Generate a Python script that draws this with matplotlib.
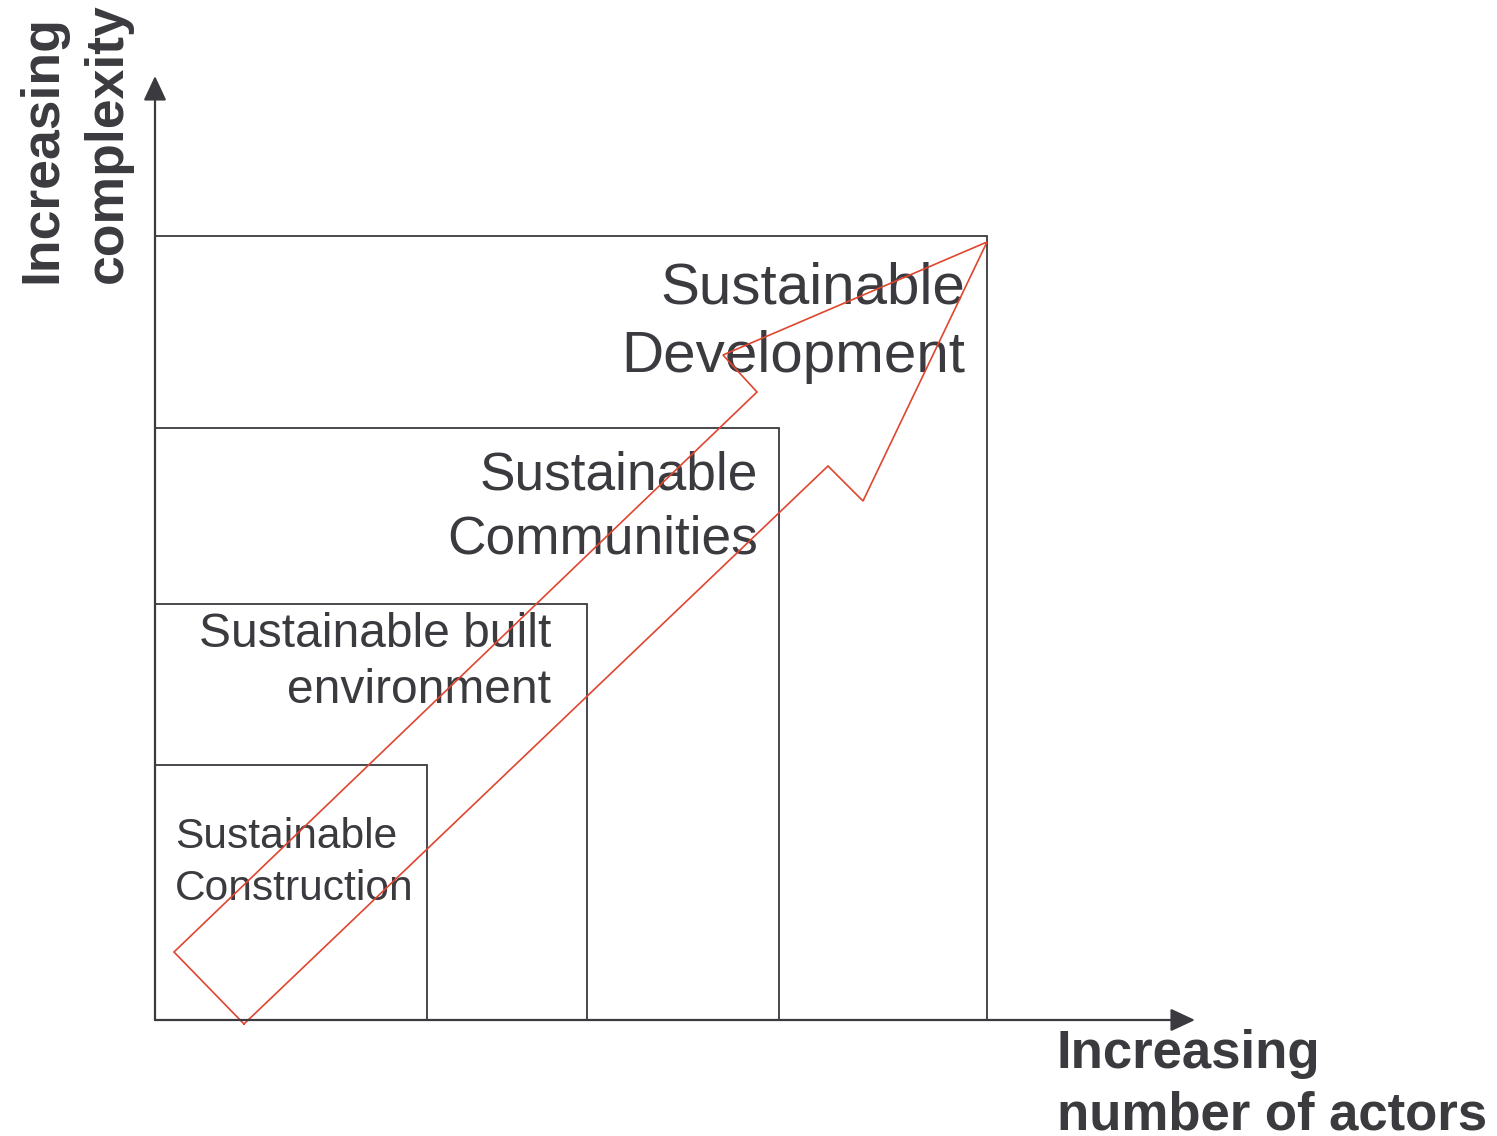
import matplotlib
matplotlib.use("Agg")
import matplotlib.pyplot as plt

INK = "#3a3a3f"
RED = "#e0452f"

# drawing space is the picture itself, in pixels (y grows downward)
W, H = 1497, 1136
ORIGIN_X, ORIGIN_Y = 155, 1020
Y_AXIS_TIP = 76
X_AXIS_TIP = 1195

# nested scopes: right and top edge of each box
rect_right = [427, 587, 779, 987]
rect_top = [765, 604, 428, 236]

# box labels: lines, anchor x, first baseline, line step, font size, alignment
label_lines = [
    ["Sustainable", "Construction"],
    ["Sustainable built", "environment"],
    ["Sustainable", "Communities"],
    ["Sustainable", "Development"],
]
label_x = [175, 551, 758, 965]
label_base = [848, 647, 490, 303]
label_step = [52, 56, 63, 69]
label_size = [30.6, 34.5, 38.3, 42]
label_ha = ["left", "right", "right", "right"]

# the red outline arrow
arrow_x = [244, 174, 757, 723, 987, 863, 828, 244]
arrow_y = [1024, 952, 392, 355, 242, 501, 466, 1024]

fig = plt.figure(figsize=(W / 100, H / 100), dpi=100)
ax = fig.add_axes([0, 0, 1, 1])
ax.set_xlim(0, W)
ax.set_ylim(H, 0)
ax.axis("off")

for r, t in zip(rect_right, rect_top):
    ax.plot([ORIGIN_X, r, r], [t, t, ORIGIN_Y], color=INK, lw=1.3,
            solid_joinstyle="miter", zorder=2)

ax.plot(arrow_x, arrow_y, color=RED, lw=1.2, solid_joinstyle="miter", zorder=3)

arrow_kw = dict(arrowstyle="-|>,head_length=15,head_width=7", color=INK,
                lw=1.6, shrinkA=0, shrinkB=0, mutation_scale=1)
ax.annotate("", xy=(ORIGIN_X, Y_AXIS_TIP), xytext=(ORIGIN_X, ORIGIN_Y),
            arrowprops=arrow_kw, zorder=4)
ax.annotate("", xy=(X_AXIS_TIP, ORIGIN_Y), xytext=(ORIGIN_X, ORIGIN_Y),
            arrowprops=arrow_kw, zorder=4)

for lines, x, b, step, fs, ha in zip(label_lines, label_x, label_base,
                                      label_step, label_size, label_ha):
    for i, line in enumerate(lines):
        ax.text(x, b + i * step, line, ha=ha, va="baseline", fontsize=fs,
                color=INK, family="Liberation Sans", zorder=1)

for i, line in enumerate(["Increasing", "number of actors"]):
    ax.text(1057, 1068 + i * 61, line, ha="left", va="baseline", fontsize=38,
            fontweight="bold", color=INK, family="Liberation Sans")

for i, line in enumerate(["Increasing", "complexity"]):
    ax.text(56 + i * 66, 283, line, ha="left", va="baseline", rotation=90,
            rotation_mode="anchor", fontsize=38.5, fontweight="bold", color=INK,
            family="Liberation Sans")

fig.savefig("out.png", dpi=100, facecolor="white")
